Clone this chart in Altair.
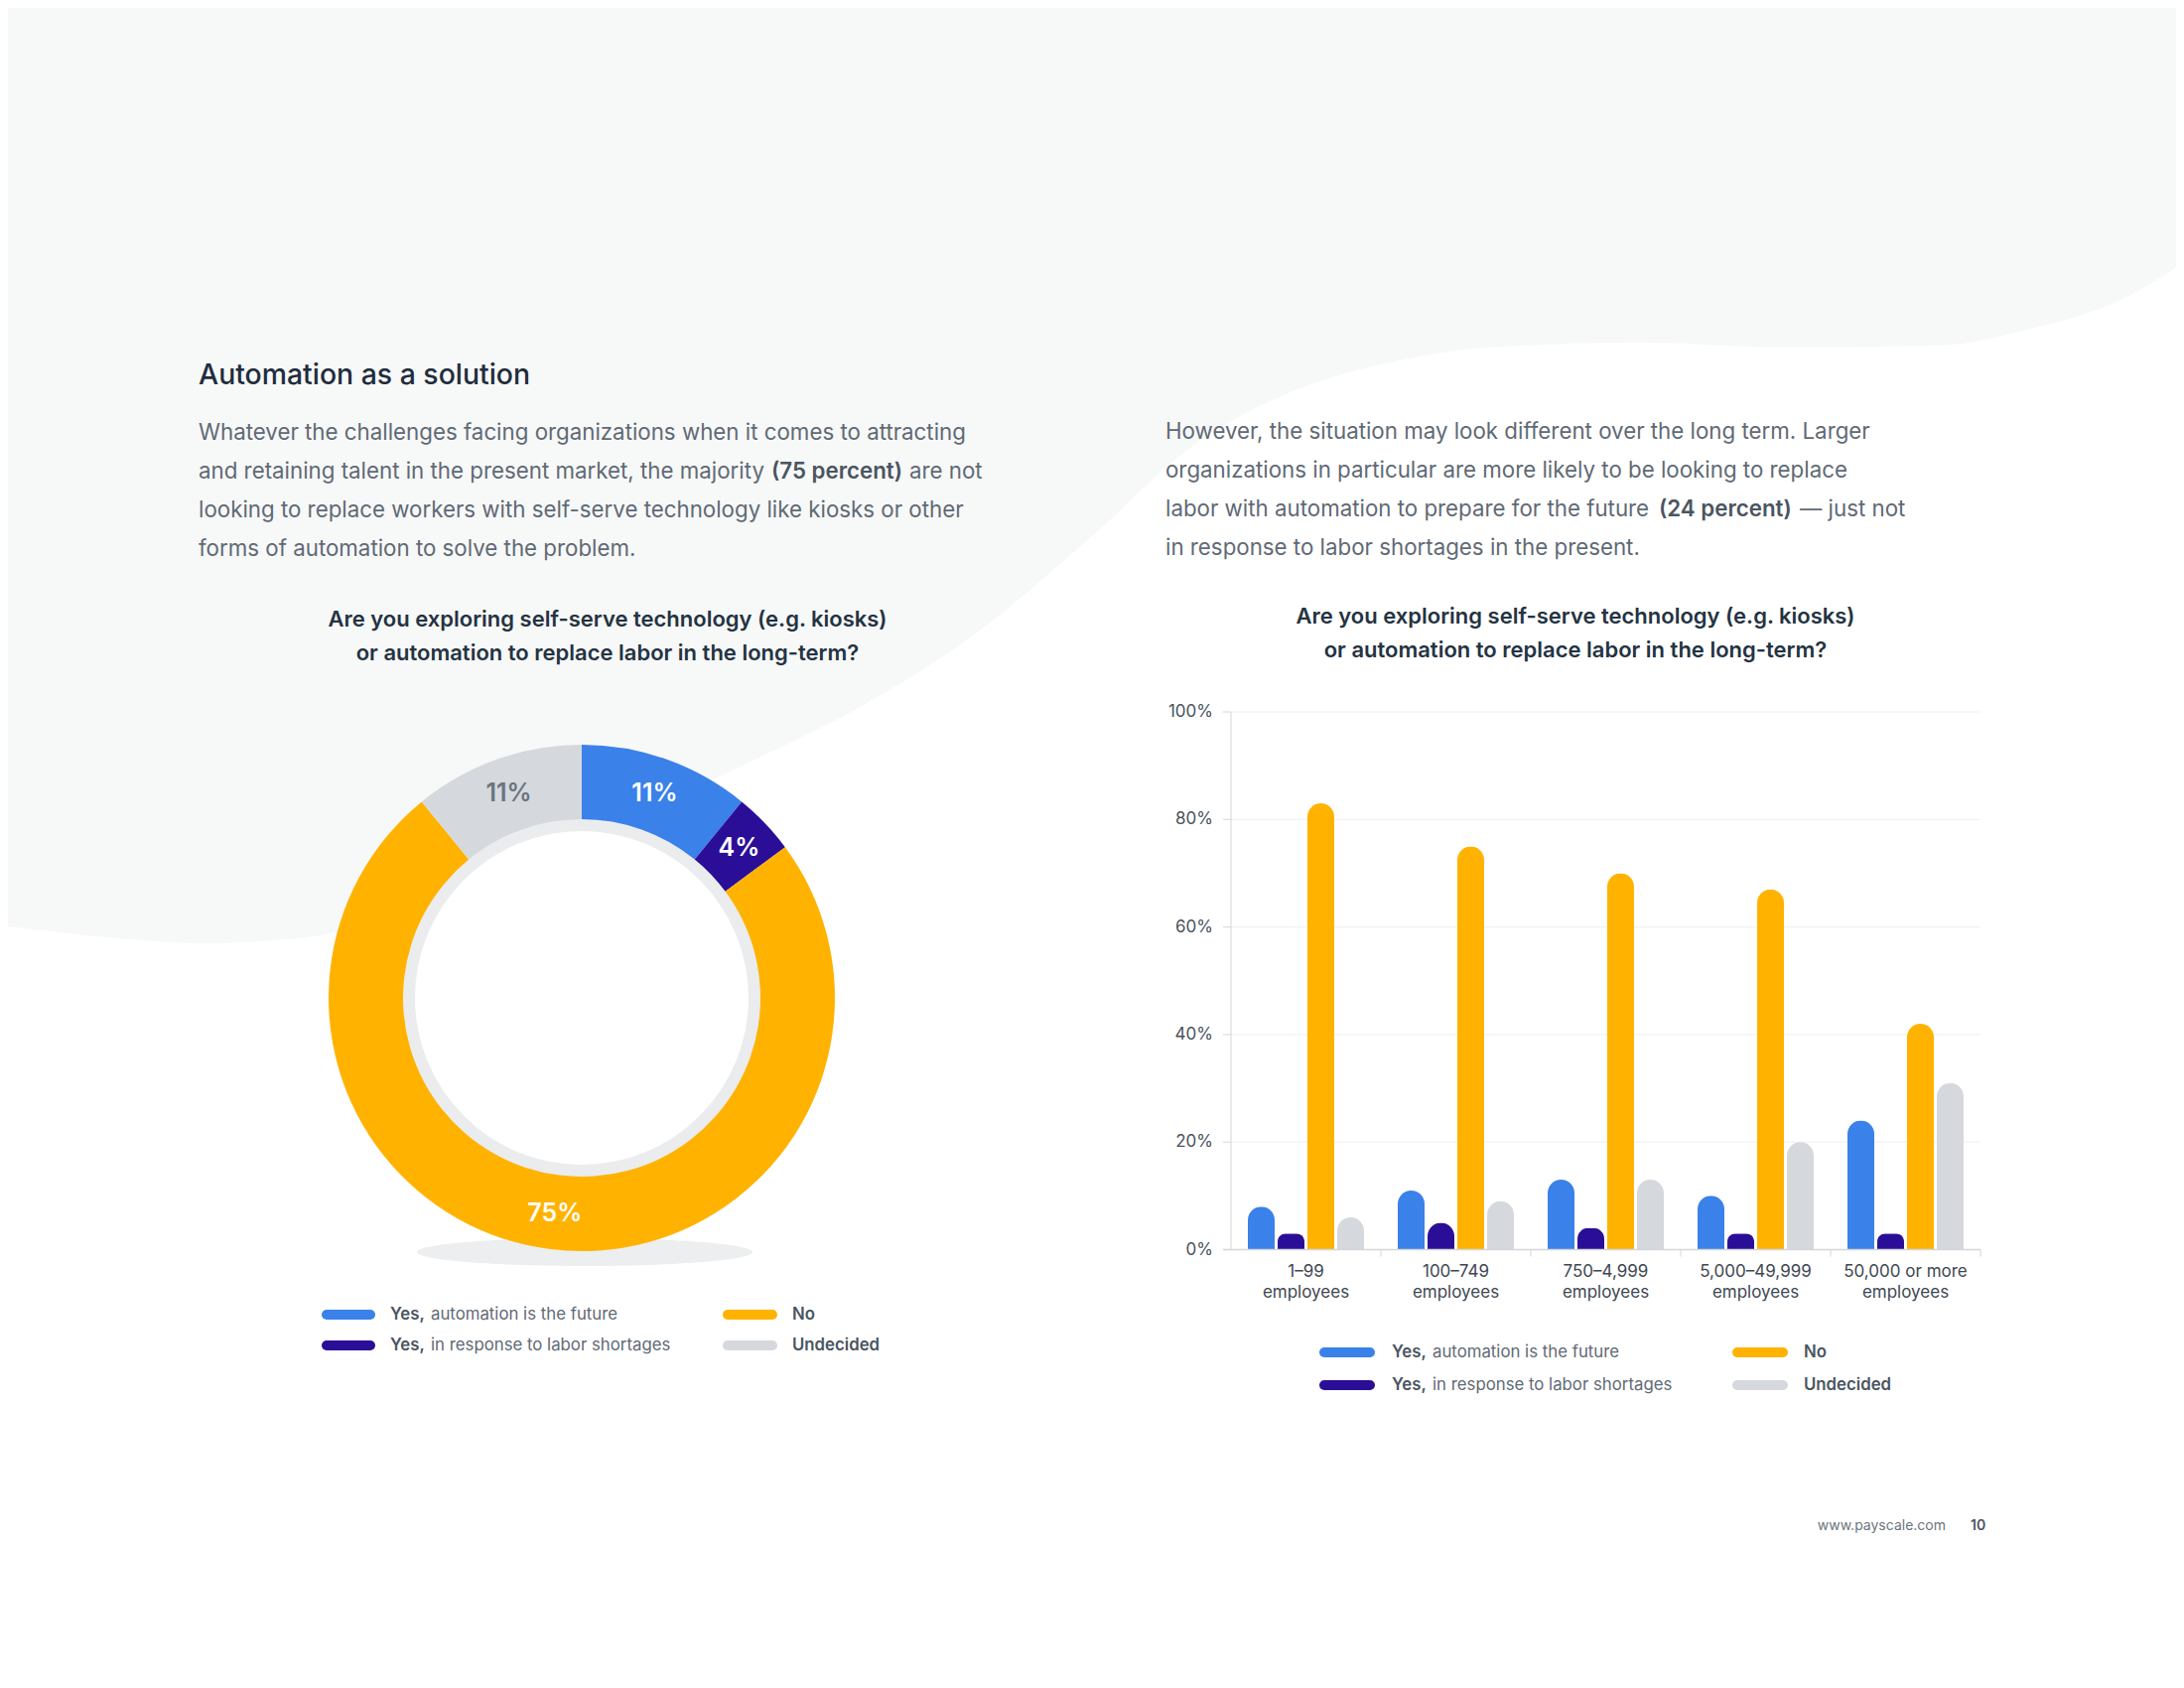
import altair as alt
import pandas as pd

# ---------------- data ----------------
series_keys = ["future", "shortage", "no", "undecided"]
series_bold = ["Yes,", "Yes,", "No", "Undecided"]
series_rest = ["automation is the future", "in response to labor shortages", "", ""]
series_colors = ["#3a81ea", "#2b0e97", "#ffb300", "#d5d9dd"]

donut_values = [11, 4, 75, 11]
donut_labels = ["11%", "4%", "75%", "11%"]

group_names = ["1–99 employees", "100–749 employees", "750–4,999 employees",
               "5,000–49,999 employees", "50,000 or more employees"]
group_line1 = ["1–99", "100–749", "750–4,999", "5,000–49,999", "50,000 or more"]
group_line2 = ["employees", "employees", "employees", "employees", "employees"]

future = [8, 11, 13, 10, 24]
shortage = [3, 5, 4, 3, 3]
no = [83, 75, 70, 67, 42]
undecided = [6, 9, 13, 20, 31]

y_ticks = [0, 20, 40, 60, 80, 100]
y_tick_labels = ["0%", "20%", "40%", "60%", "80%", "100%"]

# decorative background wave (page outline)
wave_x = [0, 120, 200, 300, 450, 600, 750, 870, 980, 1100, 1200, 1300, 1400, 1500, 1650, 1800, 1950, 2050, 2130, 2200]
wave_y = [932, 945, 950, 945, 905, 840, 770, 710, 640, 540, 450, 395, 365, 350, 345, 350, 348, 330, 305, 265]

# ---------------- layout helpers ----------------
M = 8
W, H = 2184, 1684
FONT = "Inter"
DARK = "#1f2d3d"
BODY = "#5f6a75"
BOLDBODY = "#4a5561"


def px(v):
    return v - M


def txt(s, x, y, size, color, weight=400, align="left", baseline="middle"):
    return alt.Chart(pd.DataFrame({"t": [s]})).mark_text(
        align=align, baseline=baseline, fontSize=size, fontWeight=weight,
        color=color, font=FONT
    ).encode(text="t:N", x=alt.value(px(x)), y=alt.value(px(y)))


color_scale = alt.Scale(domain=series_keys, range=series_colors)
layers = []

# background wave
wave_df = pd.DataFrame({"wx": wave_x, "wy": wave_y})
layers.append(
    alt.Chart(wave_df).mark_area(color="#f7f8f8", interpolate="monotone").encode(
        x=alt.X("wx:Q", scale=alt.Scale(domain=[0, 2200], range=[-M, 2200 - M], nice=False, zero=False), axis=None),
        y=alt.Y("wy:Q", scale=alt.Scale(domain=[0, 1700], range=[-M, 1700 - M], nice=False, zero=False), axis=None),
        y2=alt.value(0),
    )
)

# ---------------- texts ----------------
layers.append(txt("Automation as a solution", 200, 378, 28.4, DARK, 500))

P = 22.3
left_lines_y = [436, 475, 514, 553]
layers.append(txt("Whatever the challenges facing organizations when it comes to attracting", 200, left_lines_y[0], P, BODY))
layers.append(txt("and retaining talent in the present market, the majority", 200, left_lines_y[1], P, BODY))
layers.append(txt("(75 percent)", 777, left_lines_y[1], P, BOLDBODY, 600))
layers.append(txt("are not", 916, left_lines_y[1], P, BODY))
layers.append(txt("looking to replace workers with self-serve technology like kiosks or other", 200, left_lines_y[2], P, BODY))
layers.append(txt("forms of automation to solve the problem.", 200, left_lines_y[3], P, BODY))

right_lines_y = [435, 474, 513, 552]
layers.append(txt("However, the situation may look different over the long term. Larger", 1174, right_lines_y[0], P, BODY))
layers.append(txt("organizations in particular are more likely to be looking to replace", 1174, right_lines_y[1], P, BODY))
layers.append(txt("labor with automation to prepare for the future", 1174, right_lines_y[2], P, BODY))
layers.append(txt("(24 percent)", 1671, right_lines_y[2], P, BOLDBODY, 600))
layers.append(txt("— just not", 1813, right_lines_y[2], P, BODY))
layers.append(txt("in response to labor shortages in the present.", 1174, right_lines_y[3], P, BODY))

T = 22
layers.append(txt("Are you exploring self-serve technology (e.g. kiosks)", 612, 624, T, "#243342", 600, "center"))
layers.append(txt("or automation to replace labor in the long-term?", 612, 658, T, "#243342", 600, "center"))
layers.append(txt("Are you exploring self-serve technology (e.g. kiosks)", 1587, 621, T, "#243342", 600, "center"))
layers.append(txt("or automation to replace labor in the long-term?", 1587, 655, T, "#243342", 600, "center"))

layers.append(txt("www.payscale.com", 1960, 1537, 14, "#6b7580", 400, "right"))
layers.append(txt("10", 1985, 1537, 14, BOLDBODY, 600, "left"))

# ---------------- donut ----------------
CX, CY = 586, 1005
shadow_shape = "M -1 0 A 1 0.083 0 1 1 1 0 A 1 0.083 0 1 1 -1 0 Z"
layers.append(
    alt.Chart(pd.DataFrame({"a": [1]})).mark_point(
        shape=shadow_shape, filled=True, color="#eceef0", opacity=1, size=338 * 338, strokeWidth=0
    ).encode(x=alt.value(px(589)), y=alt.value(px(1261)))
)
layers.append(
    alt.Chart(pd.DataFrame({"a": [1]})).mark_arc(
        innerRadius=0, outerRadius=181, theta=0, theta2=6.2832, color="#eaecee"
    ).encode(x=alt.value(px(CX)), y=alt.value(px(CY)))
)
layers.append(
    alt.Chart(pd.DataFrame({"a": [1]})).mark_arc(
        innerRadius=0, outerRadius=168, theta=0, theta2=6.2832, color="#ffffff"
    ).encode(x=alt.value(px(CX)), y=alt.value(px(CY)))
)

donut_df = pd.DataFrame({"key": series_keys, "value": donut_values,
                         "label": donut_labels, "ord": list(range(len(series_keys)))})
layers.append(
    alt.Chart(donut_df).mark_arc(innerRadius=180, outerRadius=255).encode(
        theta=alt.Theta("value:Q", stack=True),
        order=alt.Order("ord:Q"),
        color=alt.Color("key:N", scale=color_scale, legend=None),
        x=alt.value(px(CX)), y=alt.value(px(CY)),
    )
)
layers.append(
    alt.Chart(donut_df).mark_text(radius=219, fontSize=25, fontWeight=600, font=FONT).encode(
        theta=alt.Theta("value:Q", stack=True),
        order=alt.Order("ord:Q"),
        text="label:N",
        color=alt.condition(alt.datum.key == "undecided", alt.value("#6b7580"), alt.value("#ffffff")),
        x=alt.value(px(CX)), y=alt.value(px(CY)),
    )
)

# ---------------- bar chart ----------------
X0, X1 = 1240, 1995
Y0, Y100 = 1258.5, 717
xs = alt.Scale(domain=group_names, range=[px(X0), px(X1)], paddingInner=0, paddingOuter=0)
ys = alt.Scale(domain=[0, 100], range=[px(Y0), px(Y100)], nice=False, zero=True)

rows = []
for gi, g in enumerate(group_names):
    for k, vals in zip(series_keys, [future, shortage, no, undecided]):
        rows.append({"group": g, "key": k, "value": vals[gi]})
bar_df = pd.DataFrame(rows)

tick_df = pd.DataFrame({"tick": y_ticks, "lab": y_tick_labels})
grid_df = tick_df[tick_df["tick"] > 0]
layers.append(
    alt.Chart(grid_df).mark_rule(color="#f1f2f3", strokeWidth=1.2).encode(
        y=alt.Y("tick:Q", scale=ys, axis=None),
        x=alt.value(px(X0)), x2=alt.value(px(X1)),
    )
)
layers.append(
    alt.Chart(tick_df).mark_rule(color="#d9dcdf", strokeWidth=1.2).encode(
        y=alt.Y("tick:Q", scale=ys, axis=None),
        x=alt.value(px(X0 - 8)), x2=alt.value(px(X0)),
    )
)
layers.append(
    alt.Chart(tick_df).mark_text(align="right", baseline="middle", fontSize=17, font=FONT, color="#49535d").encode(
        y=alt.Y("tick:Q", scale=ys, axis=None),
        x=alt.value(px(1222)),
        text="lab:N",
    )
)
# y axis line
layers.append(
    alt.Chart(pd.DataFrame({"a": [1]})).mark_rule(color="#d9dcdf", strokeWidth=1.2).encode(
        x=alt.value(px(X0)), y=alt.value(px(Y100)), y2=alt.value(px(Y0)),
    )
)
# bars
layers.append(
    alt.Chart(bar_df).mark_bar(cornerRadiusTopLeft=13.5, cornerRadiusTopRight=13.5).encode(
        x=alt.X("group:N", scale=xs, axis=None, sort=group_names),
        xOffset=alt.XOffset("key:N", scale=alt.Scale(domain=series_keys, paddingInner=0.1, paddingOuter=0.567)),
        y=alt.Y("value:Q", scale=ys, axis=None),
        color=alt.Color("key:N", scale=color_scale, legend=None),
    )
)
# baseline
layers.append(
    alt.Chart(tick_df[tick_df["tick"] == 0]).mark_rule(color="#d3d6da", strokeWidth=1.5).encode(
        y=alt.Y("tick:Q", scale=ys, axis=None),
        x=alt.value(px(X0 - 8)), x2=alt.value(px(X1)),
    )
)
grp_df = pd.DataFrame({"group": group_names, "l1": group_line1, "l2": group_line2})
layers.append(
    alt.Chart(grp_df).mark_rule(color="#d9dcdf", strokeWidth=1.2).encode(
        x=alt.X("group:N", scale=xs, axis=None, sort=group_names, bandPosition=1),
        y=alt.value(px(Y0)), y2=alt.value(px(Y0 + 7)),
    )
)
layers.append(
    alt.Chart(grp_df).mark_text(baseline="middle", align="center", fontSize=17, font=FONT, color="#3e4852").encode(
        x=alt.X("group:N", scale=xs, axis=None, sort=group_names),
        y=alt.value(px(1281)), text="l1:N",
    )
)
layers.append(
    alt.Chart(grp_df).mark_text(baseline="middle", align="center", fontSize=17, font=FONT, color="#3e4852").encode(
        x=alt.X("group:N", scale=xs, axis=None, sort=group_names),
        y=alt.value(px(1302)), text="l2:N",
    )
)


# ---------------- legends ----------------
def legend(col_marker, col_text, rows_y, bold_gap):
    out = []
    order = [(0, 0), (1, 0), (0, 1), (1, 1)]  # (row, col) for each series
    for i, (r, c) in enumerate(order):
        mx0, mx1 = col_marker[c]
        y = rows_y[r]
        out.append(
            alt.Chart(pd.DataFrame({"k": [series_keys[i]]})).mark_rule(strokeWidth=10, strokeCap="round").encode(
                x=alt.value(px(mx0 + 5)), x2=alt.value(px(mx1 - 5)), y=alt.value(px(y)),
                color=alt.Color("k:N", scale=color_scale, legend=None),
            )
        )
        tx = col_text[c]
        out.append(txt(series_bold[i], tx, y, 16.8, BOLDBODY, 600))
        if series_rest[i]:
            out.append(txt(series_rest[i], tx + bold_gap, y, 16.8, BODY, 400))
    return out


layers += legend([(324, 378), (728, 783)], [393, 798], [1324, 1355], 41)
layers += legend([(1329, 1385), (1745, 1801)], [1402, 1817], [1362, 1395], 41)

chart = alt.layer(*layers).resolve_scale(x="independent", y="independent").properties(
    width=W, height=H, padding=0, autosize=alt.AutoSizeParams(type="none"), background="#ffffff"
).configure_view(strokeWidth=0)

chart.save("out.html", embed_options={"renderer": "svg", "actions": False})
